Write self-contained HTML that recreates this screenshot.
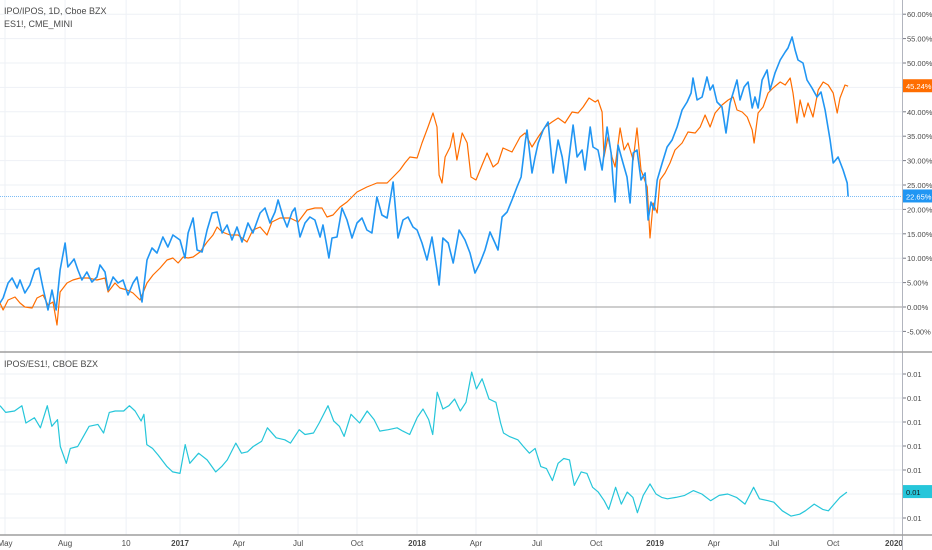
<!DOCTYPE html>
<html><head><meta charset="utf-8">
<style>
html,body{margin:0;padding:0;background:#fff;}
svg{display:block;font-family:"Liberation Sans",sans-serif;}
</style></head>
<body>
<svg id="chart" width="932" height="550" viewBox="0 0 932 550" xmlns="http://www.w3.org/2000/svg">
<rect x="0" y="0" width="932" height="550" fill="#ffffff"/>
<g id="grid"></g>
<g id="series"></g>
<g id="axes"></g>
<text x="4" y="14" font-size="9" fill="#4a4a4a">IPO/IPOS, 1D, Cboe BZX</text>
<text x="4" y="27" font-size="9" fill="#4a4a4a">ES1!, CME_MINI</text>
<text x="4" y="367" font-size="9" fill="#4a4a4a">IPOS/ES1!, CBOE BZX</text>
</svg>
<script>
const xTickTimes=[2016.263,2016.516,2016.773,2017.0,2017.248,2017.497,2017.745,2017.998,2018.246,2018.503,2018.752,2019.0,2019.248,2019.501,2019.750,2020.006];
const xTickLabels=["May","Aug","10","2017","Apr","Jul","Oct","2018","Apr","Jul","Oct","2019","Apr","Jul","Oct","2020"];
const mainTicks=[60,55,50,45,40,35,30,25,20,15,10,5,0,-5];
const ratioTicks=[0.0150,0.0145,0.0140,0.0135,0.0130,0.0125,0.0120];
const iposTimes=[2016.242,2016.255,2016.276,2016.293,2016.314,2016.326,2016.347,2016.368,2016.389,2016.406,2016.423,2016.444,2016.461,2016.478,2016.495,2016.516,2016.528,2016.554,2016.570,2016.587,2016.608,2016.629,2016.650,2016.663,2016.684,2016.697,2016.718,2016.739,2016.760,2016.781,2016.802,2016.819,2016.840,2016.861,2016.882,2016.903,2016.928,2016.949,2016.970,2017.000,2017.021,2017.034,2017.055,2017.072,2017.093,2017.114,2017.135,2017.156,2017.177,2017.198,2017.219,2017.240,2017.261,2017.286,2017.307,2017.337,2017.358,2017.379,2017.400,2017.413,2017.434,2017.451,2017.472,2017.484,2017.505,2017.526,2017.547,2017.568,2017.590,2017.602,2017.619,2017.627,2017.640,2017.661,2017.682,2017.703,2017.724,2017.745,2017.766,2017.787,2017.808,2017.829,2017.850,2017.872,2017.897,2017.918,2017.939,2017.960,2017.981,2017.998,2018.019,2018.040,2018.061,2018.082,2018.091,2018.107,2018.129,2018.150,2018.175,2018.200,2018.221,2018.242,2018.263,2018.284,2018.305,2018.326,2018.339,2018.356,2018.377,2018.398,2018.419,2018.436,2018.453,2018.461,2018.482,2018.495,2018.508,2018.529,2018.550,2018.571,2018.592,2018.609,2018.625,2018.642,2018.655,2018.672,2018.693,2018.705,2018.727,2018.739,2018.760,2018.777,2018.798,2018.815,2018.823,2018.832,2018.844,2018.865,2018.882,2018.895,2018.908,2018.924,2018.941,2018.958,2018.971,2018.983,2018.996,2019.009,2019.030,2019.051,2019.072,2019.093,2019.114,2019.135,2019.152,2019.160,2019.177,2019.198,2019.219,2019.232,2019.244,2019.261,2019.282,2019.299,2019.316,2019.345,2019.358,2019.375,2019.392,2019.409,2019.421,2019.434,2019.451,2019.472,2019.484,2019.505,2019.527,2019.548,2019.560,2019.577,2019.590,2019.602,2019.623,2019.640,2019.661,2019.682,2019.699,2019.716,2019.737,2019.750,2019.771,2019.792,2019.809,2019.813];
const iposValues=[0.82,1.84,4.92,5.94,3.89,5.53,2.87,4.51,7.58,7.99,3.89,-0.61,3.48,-0.61,7.58,13.11,8.20,9.84,7.58,5.53,7.17,5.12,6.15,8.61,7.17,3.48,6.15,4.92,5.53,2.46,4.92,6.15,1.02,9.63,12.09,11.06,14.34,12.29,14.75,13.73,10.04,15.16,18.24,11.68,11.27,15.78,19.26,19.47,15.16,16.80,13.73,16.39,13.32,17.21,15.16,19.26,20.29,17.21,19.47,21.92,18.44,16.39,19.47,20.29,14.34,17.21,18.44,17.83,14.34,16.80,12.29,10.04,14.14,14.34,20.29,17.83,14.14,17.21,18.24,15.78,15.16,22.54,18.85,18.24,25.61,14.14,17.83,18.44,16.39,15.78,13.11,9.63,14.34,7.58,4.51,14.14,13.11,9.02,15.78,13.73,11.06,6.97,9.02,11.68,15.37,13.11,11.68,18.44,19.47,21.92,24.59,26.64,33.60,36.27,27.46,30.74,33.60,36.27,37.91,27.46,34.22,30.74,25.41,32.17,37.29,30.74,32.17,28.07,36.88,32.78,32.17,28.07,36.88,31.55,26.02,21.51,33.19,29.51,26.64,21.31,31.55,32.17,26.02,27.46,17.83,21.51,19.88,26.02,29.51,32.78,34.22,36.88,40.37,42.00,43.85,46.92,42.41,43.03,47.13,44.46,45.49,42.00,40.98,35.65,41.80,46.51,42.41,45.08,46.10,40.78,43.03,40.78,46.51,48.56,44.46,47.95,50.61,52.25,53.07,55.32,52.66,50.61,50.00,46.51,44.87,43.03,44.05,40.37,34.22,29.51,30.74,28.07,25.41,22.65];
const esTimes=[2016.242,2016.255,2016.276,2016.305,2016.326,2016.347,2016.377,2016.398,2016.423,2016.444,2016.465,2016.482,2016.495,2016.524,2016.549,2016.579,2016.613,2016.650,2016.684,2016.697,2016.726,2016.747,2016.777,2016.802,2016.832,2016.861,2016.886,2016.916,2016.945,2016.970,2016.992,2017.013,2017.034,2017.055,2017.084,2017.114,2017.139,2017.156,2017.177,2017.211,2017.244,2017.282,2017.307,2017.337,2017.366,2017.387,2017.421,2017.463,2017.497,2017.535,2017.568,2017.598,2017.619,2017.644,2017.674,2017.703,2017.745,2017.787,2017.829,2017.872,2017.897,2017.926,2017.947,2017.968,2017.998,2018.019,2018.044,2018.065,2018.082,2018.091,2018.103,2018.116,2018.137,2018.150,2018.166,2018.188,2018.209,2018.225,2018.246,2018.272,2018.293,2018.318,2018.339,2018.360,2018.398,2018.432,2018.453,2018.482,2018.508,2018.537,2018.566,2018.592,2018.621,2018.651,2018.676,2018.697,2018.722,2018.748,2018.760,2018.777,2018.785,2018.802,2018.819,2018.832,2018.853,2018.870,2018.886,2018.908,2018.924,2018.941,2018.967,2018.979,2018.992,2019.009,2019.021,2019.042,2019.063,2019.084,2019.114,2019.139,2019.169,2019.190,2019.211,2019.232,2019.253,2019.282,2019.308,2019.329,2019.345,2019.367,2019.388,2019.409,2019.417,2019.434,2019.455,2019.476,2019.497,2019.527,2019.548,2019.569,2019.581,2019.598,2019.611,2019.628,2019.644,2019.665,2019.687,2019.708,2019.729,2019.750,2019.767,2019.779,2019.800,2019.813];
const esValues=[0.82,-0.61,1.43,2.05,0.82,0.00,-0.20,1.84,2.46,0.41,1.02,-3.69,3.07,4.92,5.53,5.94,5.94,5.53,5.94,3.07,4.92,3.89,3.48,2.87,1.43,4.92,6.56,7.99,9.63,10.04,9.02,10.25,10.04,10.25,11.27,13.32,14.75,16.39,15.37,14.75,14.75,13.32,15.78,16.39,14.75,17.42,18.24,18.24,17.42,19.88,20.29,20.29,18.44,18.85,20.49,21.51,23.56,24.59,25.41,25.41,26.64,28.07,29.51,30.74,30.53,33.60,36.88,39.75,36.88,27.05,25.41,30.74,32.78,35.65,30.12,35.65,33.60,26.64,26.02,29.10,31.55,28.69,29.51,32.58,31.76,34.83,35.65,32.78,34.83,36.88,37.91,38.73,37.70,39.96,39.75,40.98,42.82,42.00,42.41,39.96,30.74,34.83,30.74,28.69,36.68,32.17,33.60,30.12,36.68,28.07,24.59,14.14,21.31,19.26,26.02,27.46,29.51,32.17,33.60,35.86,35.65,36.88,39.34,36.88,39.75,41.39,42.41,43.03,40.37,39.96,38.93,36.27,33.60,39.75,40.98,43.85,44.87,46.10,45.49,46.92,43.85,37.70,42.41,38.93,41.80,38.93,44.46,46.10,45.49,43.85,39.75,42.82,45.49,45.24];
const ratioTimes=[2016.242,2016.266,2016.303,2016.334,2016.351,2016.387,2016.412,2016.441,2016.460,2016.484,2016.496,2016.521,2016.538,2016.569,2016.593,2016.617,2016.654,2016.678,2016.702,2016.727,2016.763,2016.787,2016.811,2016.836,2016.848,2016.860,2016.884,2016.908,2016.945,2016.969,2017.000,2017.022,2017.041,2017.078,2017.114,2017.150,2017.175,2017.199,2017.235,2017.259,2017.284,2017.308,2017.344,2017.368,2017.405,2017.441,2017.465,2017.502,2017.526,2017.562,2017.586,2017.623,2017.647,2017.671,2017.691,2017.720,2017.756,2017.788,2017.817,2017.841,2017.877,2017.914,2017.938,2017.967,2017.998,2018.023,2018.047,2018.064,2018.083,2018.107,2018.132,2018.156,2018.180,2018.204,2018.228,2018.248,2018.272,2018.301,2018.330,2018.350,2018.362,2018.386,2018.422,2018.446,2018.471,2018.495,2018.519,2018.543,2018.568,2018.592,2018.616,2018.640,2018.660,2018.689,2018.713,2018.737,2018.761,2018.786,2018.805,2018.834,2018.858,2018.883,2018.907,2018.926,2018.950,2018.979,2019.004,2019.028,2019.052,2019.088,2019.125,2019.161,2019.197,2019.234,2019.270,2019.306,2019.343,2019.379,2019.415,2019.440,2019.476,2019.500,2019.536,2019.573,2019.609,2019.633,2019.670,2019.706,2019.730,2019.754,2019.779,2019.808];
const ratioValues=[0.01434,0.01420,0.01423,0.01434,0.01398,0.01409,0.01388,0.01434,0.01391,0.01405,0.01349,0.01314,0.01345,0.01349,0.01370,0.01391,0.01395,0.01377,0.01420,0.01423,0.01423,0.01434,0.01423,0.01402,0.01416,0.01353,0.01345,0.01331,0.01307,0.01296,0.01293,0.01353,0.01314,0.01335,0.01321,0.01296,0.01307,0.01321,0.01356,0.01335,0.01338,0.01349,0.01360,0.01388,0.01367,0.01363,0.01356,0.01384,0.01374,0.01377,0.01398,0.01434,0.01402,0.01391,0.01370,0.01416,0.01398,0.01423,0.01405,0.01381,0.01384,0.01388,0.01381,0.01374,0.01409,0.01427,0.01405,0.01374,0.01462,0.01427,0.01434,0.01448,0.01423,0.01441,0.01504,0.01469,0.01490,0.01448,0.01441,0.01398,0.01377,0.01370,0.01363,0.01349,0.01335,0.01345,0.01307,0.01303,0.01278,0.01314,0.01324,0.01321,0.01268,0.01296,0.01293,0.01264,0.01254,0.01236,0.01218,0.01264,0.01229,0.01254,0.01243,0.01211,0.01247,0.01271,0.01250,0.01243,0.01240,0.01243,0.01247,0.01257,0.01250,0.01236,0.01247,0.01250,0.01243,0.01229,0.01264,0.01240,0.01236,0.01233,0.01215,0.01204,0.01208,0.01215,0.01229,0.01218,0.01215,0.01229,0.01243,0.01254];

const NS="http://www.w3.org/2000/svg";
const plotRight=902, mainTop=0, sepY=352, axisY=535;
function xScale(t){return (t-2016.242)*237.5;}
function yMain(p){return 307-p*4.88;}
function yRatio(v){return 374+(0.0150-v)/0.0005*24;}
function mk(tag,attrs,parent){const e=document.createElementNS(NS,tag);for(const k in attrs)e.setAttribute(k,attrs[k]);parent.appendChild(e);return e;}
const grid=document.getElementById('grid'),series=document.getElementById('series'),axes=document.getElementById('axes');

xTickTimes.forEach((t,i)=>{
  const x=xScale(t);
  if(x<plotRight){
    const l=mk('line',{x1:x,x2:x,y1:0,y2:axisY,stroke:'#eef1f6','stroke-width':1},grid);
    
    
  }
  const isYear=/^\d{4}$/.test(xTickLabels[i]);
  const tx=mk('text',{x:x,y:546,'font-size':8,'text-anchor':'middle',fill:'#4a4a4a','font-weight':isYear?'bold':'normal'},axes);
  tx.textContent=xTickLabels[i];
  
  
});
mainTicks.forEach(p=>{
  const y=yMain(p);
  const l=mk('line',{x1:0,x2:plotRight,y1:y,y2:y,stroke:p===0?'#9e9e9e':'#eef1f6','stroke-width':1},grid);
  
  
  mk('line',{x1:903,x2:906,y1:y,y2:y,stroke:'#787b86'},axes);
  const tx=mk('text',{x:907,y:y+3,'font-size':7.5,fill:'#4a4a4a'},axes);
  tx.textContent=p.toFixed(2)+'%';
  
  
});
ratioTicks.forEach(v=>{
  const y=yRatio(v);
  const l=mk('line',{x1:0,x2:plotRight,y1:y,y2:y,stroke:'#eef1f6','stroke-width':1},grid);
  
  
  mk('line',{x1:903,x2:906,y1:y,y2:y,stroke:'#787b86'},axes);
  const tx=mk('text',{x:907,y:y+3,'font-size':7.5,fill:'#4a4a4a'},axes);
  tx.textContent=v.toFixed(2);
  
  
});

function path(times,vals,ys,color,w,name){
  let d='';times.forEach((t,i)=>{d+=(i?'L':'M')+xScale(t).toFixed(1)+','+ys(vals[i]).toFixed(1);});
  const p=mk('path',{d:d,fill:'none',stroke:color,'stroke-width':w,'stroke-linejoin':'round'},series);
  
  
}
const lastIpos=iposValues[iposValues.length-1];
const hl=mk('line',{x1:0,x2:plotRight,y1:yMain(lastIpos),y2:yMain(lastIpos),stroke:'#7cbcf5','stroke-width':1,'stroke-dasharray':'1,1'},grid);


path(esTimes,esValues,yMain,'#ff6d00',1.2,'es1-series-line');
path(iposTimes,iposValues,yMain,'#2196f3',1.6,'ipos-series-line');
path(ratioTimes,ratioValues,yRatio,'#26c6da',1.2,'ratio-series-line');

// axes borders
mk('line',{x1:902.5,x2:902.5,y1:0,y2:550,stroke:'#b2b5be','stroke-width':1},axes);
mk('line',{x1:0,x2:932,y1:sepY,y2:sepY,stroke:'#9e9e9e','stroke-width':1.5},axes);
mk('line',{x1:0,x2:932,y1:axisY,y2:axisY,stroke:'#9e9e9e','stroke-width':1.5},axes);

function tag(v,y,bg,fg,txt,name){
  const r=mk('rect',{x:903,y:y-7,width:29,height:13,fill:bg},axes);
  
  
  const t=mk('text',{x:906,y:y+3,'font-size':7.5,fill:fg},axes);
  t.textContent=txt;
  
  
}
const lastEs=esValues[esValues.length-1];
tag(lastEs,yMain(lastEs),'#ff6d00','#fff',lastEs.toFixed(2)+'%','es1-last-value-tag');
tag(lastIpos,yMain(lastIpos),'#2196f3','#fff',lastIpos.toFixed(2)+'%','ipos-last-value-tag');
const lastR=ratioValues[ratioValues.length-1];
tag(lastR,yRatio(lastR),'#26c6da','#1a1a1a',lastR.toFixed(2),'ratio-last-value-tag');
</script>
</body></html>
